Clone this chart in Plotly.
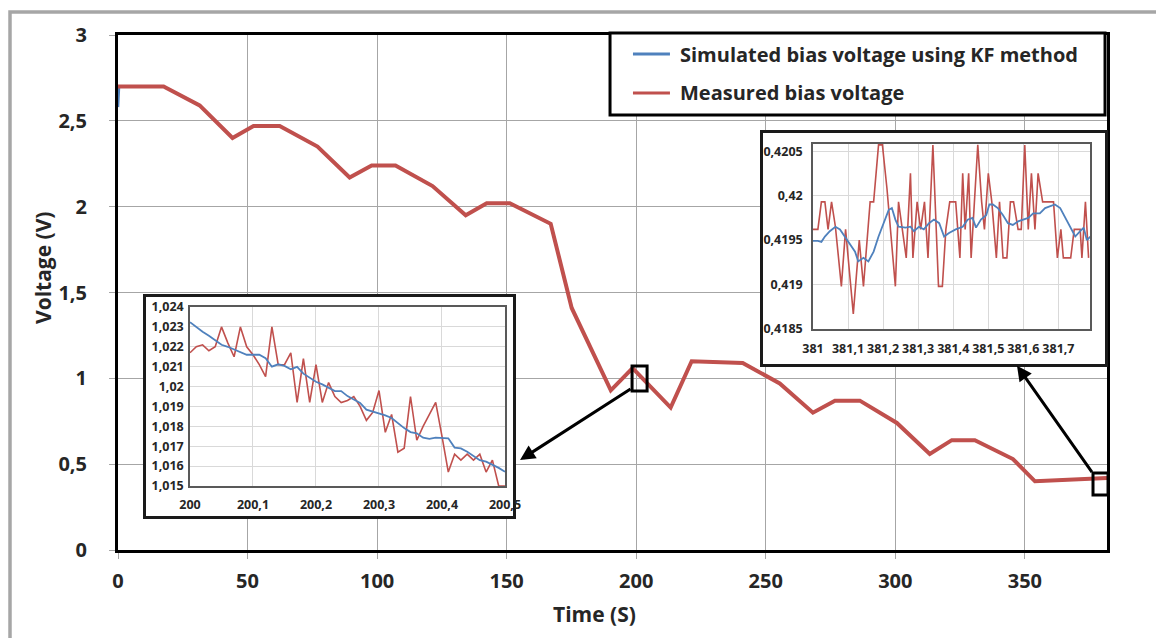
import plotly.graph_objects as go

# ---- Full test record (time in s, bias voltage in V) ----
meas_t = [0, 17.6, 31.5, 44.2, 52.3, 62.4, 77.0, 89.4, 97.9, 107.1,
          121.4, 134.2, 142.3, 151.2, 167.0, 175.1, 190.2, 198.6, 213.3, 221.4,
          241.1, 255.4, 268.2, 276.7, 286.3, 300.6, 313.3, 321.8, 330.7, 345.4,
          353.9, 381.7]
meas_v = [2.70, 2.70, 2.59, 2.40, 2.47, 2.47, 2.35, 2.17, 2.24, 2.24,
          2.12, 1.95, 2.02, 2.02, 1.90, 1.41, 0.93, 1.06, 0.83, 1.10,
          1.09, 0.97, 0.80, 0.87, 0.87, 0.74, 0.56, 0.64, 0.64, 0.53,
          0.40, 0.42]

sim_t = [0, 0.4, 17.6, 31.5, 44.2, 52.3, 62.4, 77.0, 89.4, 97.9, 107.1,
         121.4, 134.2, 142.3, 151.2, 167.0, 175.1, 190.2, 198.6, 213.3, 221.4,
         241.1, 255.4, 268.2, 276.7, 286.3, 300.6, 313.3, 321.8, 330.7, 345.4,
         353.9, 381.7]
sim_v = [2.58, 2.70, 2.70, 2.59, 2.40, 2.47, 2.47, 2.35, 2.17, 2.24, 2.24,
         2.12, 1.95, 2.02, 2.02, 1.90, 1.41, 0.93, 1.06, 0.83, 1.10,
         1.09, 0.97, 0.80, 0.87, 0.87, 0.74, 0.56, 0.64, 0.64, 0.53,
         0.40, 0.42]

# ---- Detail around t = 200 s ----
zoom1_t = [200.00, 200.01, 200.02, 200.03, 200.04, 200.05, 200.06, 200.07, 200.08, 200.09,
           200.10, 200.11, 200.12, 200.13, 200.14, 200.15, 200.16, 200.17, 200.18, 200.19,
           200.20, 200.21, 200.22, 200.23, 200.24, 200.25, 200.26, 200.27, 200.28, 200.29,
           200.30, 200.31, 200.32, 200.33, 200.34, 200.35, 200.36, 200.37, 200.38, 200.39,
           200.40, 200.41, 200.42, 200.43, 200.44, 200.45, 200.46, 200.47, 200.48, 200.49,
           200.50]
zoom1_meas = [1.0217, 1.0220, 1.0221, 1.0218, 1.0220, 1.0230, 1.0222, 1.0215, 1.0230, 1.0220,
              1.0216, 1.0211, 1.0205, 1.0230, 1.0211, 1.0211, 1.0217, 1.0192, 1.0214, 1.0192,
              1.0211, 1.0192, 1.0202, 1.0195, 1.0192, 1.0193, 1.0195, 1.0190, 1.0183, 1.0187,
              1.0198, 1.0177, 1.0186, 1.0167, 1.0169, 1.0195, 1.0173, 1.0180, 1.0186, 1.0192,
              1.0175, 1.0157, 1.0166, 1.0163, 1.0166, 1.0163, 1.0166, 1.0157, 1.0163, 1.0150,
              1.0150]
zoom1_sim = [1.02324, 1.02298, 1.02276, 1.02256, 1.02231, 1.02210, 1.02200, 1.02188, 1.02172, 1.02160,
             1.02160, 1.02160, 1.02143, 1.02100, 1.02112, 1.02104, 1.02087, 1.02099, 1.02065, 1.02045,
             1.02024, 1.02011, 1.01994, 1.01977, 1.01977, 1.01952, 1.01935, 1.01918, 1.01884, 1.01875,
             1.01867, 1.01855, 1.01842, 1.01816, 1.01791, 1.01771, 1.01765, 1.01743, 1.01737, 1.01743,
             1.01740, 1.01740, 1.01693, 1.01689, 1.01672, 1.01652, 1.01630, 1.01622, 1.01608, 1.01591,
             1.01571]

# ---- Detail around t = 381 s ----
zoom2_meas_t = [381.000, 381.014, 381.024, 381.034, 381.043, 381.053, 381.064, 381.081, 381.093, 381.115,
                381.132, 381.144, 381.163, 381.173, 381.187, 381.198, 381.211, 381.235, 381.244, 381.254,
                381.266, 381.278, 381.285, 381.297, 381.307, 381.318, 381.328, 381.342, 381.358, 381.369,
                381.379, 381.390, 381.407, 381.419, 381.427, 381.434, 381.444, 381.451, 381.470, 381.481,
                381.489, 381.500, 381.510, 381.523, 381.532, 381.542, 381.553, 381.563, 381.572, 381.585,
                381.594, 381.604, 381.614, 381.623, 381.633, 381.642, 381.655, 381.686, 381.697, 381.707,
                381.714, 381.735, 381.745, 381.762, 381.767, 381.777, 381.786]
zoom2_meas = [0.41962, 0.41962, 0.41993, 0.41993, 0.41962, 0.41993, 0.41965, 0.41898, 0.41962, 0.41867,
              0.41950, 0.41898, 0.41993, 0.41993, 0.42057, 0.42057, 0.42008, 0.41898, 0.41993, 0.41962,
              0.41930, 0.42025, 0.41930, 0.41993, 0.41962, 0.41993, 0.41930, 0.42057, 0.41898, 0.41898,
              0.41962, 0.41993, 0.41993, 0.41930, 0.42025, 0.41962, 0.42025, 0.41930, 0.42057, 0.41993,
              0.41962, 0.42025, 0.41993, 0.41930, 0.41993, 0.41930, 0.41930, 0.41993, 0.41993, 0.41962,
              0.41962, 0.42057, 0.41962, 0.42025, 0.41962, 0.42025, 0.41993, 0.41993, 0.41930, 0.41962,
              0.41930, 0.41930, 0.41962, 0.41962, 0.41930, 0.41993, 0.41930]
zoom2_sim_t = [381.000, 381.014, 381.024, 381.034, 381.048, 381.064, 381.077, 381.091, 381.105, 381.120,
               381.129, 381.144, 381.158, 381.173, 381.187, 381.201, 381.216, 381.225, 381.235, 381.244,
               381.264, 381.278, 381.288, 381.302, 381.316, 381.331, 381.345, 381.360, 381.374, 381.388,
               381.407, 381.427, 381.441, 381.455, 381.465, 381.479, 381.494, 381.503, 381.513, 381.527,
               381.542, 381.556, 381.570, 381.585, 381.599, 381.614, 381.628, 381.647, 381.662, 381.676,
               381.690, 381.705, 381.719, 381.733, 381.748, 381.762, 381.772, 381.781, 381.791]
zoom2_sim = [0.41949, 0.41949, 0.41948, 0.41954, 0.41960, 0.41965, 0.41962, 0.41954, 0.41947, 0.41937,
             0.41926, 0.41930, 0.41926, 0.41937, 0.41954, 0.41969, 0.41984, 0.41986, 0.41973, 0.41965,
             0.41964, 0.41965, 0.41960, 0.41965, 0.41962, 0.41969, 0.41973, 0.41969, 0.41954, 0.41958,
             0.41962, 0.41965, 0.41973, 0.41975, 0.41964, 0.41973, 0.41978, 0.41990, 0.41990, 0.41986,
             0.41978, 0.41969, 0.41967, 0.41971, 0.41973, 0.41975, 0.41980, 0.41980, 0.41986, 0.41988,
             0.41990, 0.41986, 0.41975, 0.41965, 0.41954, 0.41960, 0.41964, 0.41950, 0.41954]

SIM_NAME = "Simulated bias voltage using KF method"
MEAS_NAME = "Measured bias voltage"
BLUE = "#4F81BD"
RED = "#C0504D"
TXT = "#262626"
FONT = "Open Sans"

fig = go.Figure()

# main chart
fig.add_trace(go.Scatter(x=sim_t, y=sim_v, mode="lines", name=SIM_NAME,
                         line=dict(color=BLUE, width=2.5), showlegend=False))
fig.add_trace(go.Scatter(x=meas_t, y=meas_v, mode="lines", name=MEAS_NAME,
                         line=dict(color=RED, width=4), showlegend=False))

# frame panel behind the first inset
fig.add_trace(go.Scatter(x=[], y=[], xaxis="x2", yaxis="y2", showlegend=False, hoverinfo="skip"))
# first inset
fig.add_trace(go.Scatter(x=zoom1_t, y=zoom1_meas, mode="lines", xaxis="x3", yaxis="y3",
                         line=dict(color=RED, width=1.6), showlegend=False))
fig.add_trace(go.Scatter(x=zoom1_t, y=zoom1_sim, mode="lines", xaxis="x3", yaxis="y3",
                         line=dict(color=BLUE, width=1.8), showlegend=False))
# frame panel behind the second inset
fig.add_trace(go.Scatter(x=[], y=[], xaxis="x4", yaxis="y4", showlegend=False, hoverinfo="skip"))
# second inset
fig.add_trace(go.Scatter(x=zoom2_meas_t, y=zoom2_meas, mode="lines", xaxis="x5", yaxis="y5",
                         line=dict(color=RED, width=1.6), showlegend=False))
fig.add_trace(go.Scatter(x=zoom2_sim_t, y=zoom2_sim, mode="lines", xaxis="x5", yaxis="y5",
                         line=dict(color=BLUE, width=1.8), showlegend=False))

main_tick = dict(family=FONT, size=20, color=TXT, weight="bold")
inset_tick = dict(family=FONT, size=12.5, color=TXT, weight="bold")

panel_axis = dict(range=[0, 1], showgrid=False, zeroline=False, showticklabels=False,
                  ticks="", showline=True, mirror=True, linecolor="#1a1a1a", linewidth=3,
                  fixedrange=True)
inset_axis = dict(showgrid=True, gridcolor="#D9D9D9", gridwidth=1, zeroline=False,
                  showline=True, mirror=True, linecolor="#595959", linewidth=1.5,
                  ticks="", tickfont=inset_tick, fixedrange=True)

fig.update_layout(
    width=1156, height=638,
    margin=dict(l=118, r=49, t=35, b=88),
    paper_bgcolor="white", plot_bgcolor="white",
    separators=", ",
    showlegend=False,
    xaxis=dict(range=[0, 381.7], dtick=50, tick0=0, showgrid=True, gridcolor="#A6A6A6",
               gridwidth=1.2, zeroline=False, showline=True, mirror=True,
               linecolor="black", linewidth=3, ticks="outside", ticklen=6,
               tickcolor="#A6A6A6", tickfont=main_tick, ticklabelstandoff=5),
    yaxis=dict(range=[0, 3], dtick=0.5, showgrid=True, gridcolor="#A6A6A6",
               gridwidth=1.2, zeroline=False, showline=True, mirror=True,
               linecolor="black", linewidth=3, ticks="outside", ticklen=6,
               tickcolor="#A6A6A6", tickfont=main_tick, ticklabelstandoff=18),
    xaxis2=dict(panel_axis, domain=[0.0283, 0.3994], anchor="y2"),
    yaxis2=dict(panel_axis, domain=[0.0660, 0.4913], anchor="x2"),
    xaxis3=dict(inset_axis, domain=[0.0728, 0.3913], anchor="y3",
                range=[200, 200.5], dtick=0.1, tick0=200, ticklabelstandoff=6),
    yaxis3=dict(inset_axis, domain=[0.1243, 0.4718], anchor="x3",
                range=[1.015, 1.024], dtick=0.001, tick0=1.015, ticklabelstandoff=2),
    xaxis4=dict(panel_axis, domain=[0.6522, 0.9980], anchor="y4"),
    yaxis4=dict(panel_axis, domain=[0.3612, 0.8097], anchor="x4"),
    xaxis5=dict(inset_axis, domain=[0.7027, 0.9828], anchor="y5",
                range=[381, 381.79], dtick=0.1, tick0=381, ticklabelstandoff=7),
    yaxis5=dict(inset_axis, domain=[0.4291, 0.7883], anchor="x5",
                range=[0.4185, 0.42058], dtick=0.0005, tick0=0.4185, ticklabelstandoff=6),
)

shapes = [
    # outer grey frame of the figure
    dict(type="rect", xref="paper", yref="paper", x0=-0.1092, y0=-0.19, x1=1.06, y1=1.0447,
         line=dict(color="#A6A6A6", width=3.5), fillcolor="rgba(0,0,0,0)", layer="above"),
    # zoom windows on the main curve
    dict(type="rect", xref="x", yref="y", x0=198.4, x1=204.2, y0=0.926, y1=1.072,
         line=dict(color="black", width=3), layer="above"),
    dict(type="rect", xref="x", yref="y", x0=376.3, x1=382.1, y0=0.32, y1=0.448,
         line=dict(color="black", width=3), layer="above"),
    # legend box
    dict(type="rect", xref="paper", yref="paper", x0=0.4975, x1=0.998, y0=0.8447, y1=1.0039,
         line=dict(color="black", width=3), fillcolor="white", layer="above"),
    dict(type="line", xref="paper", yref="paper", x0=0.5207, x1=0.5581, y0=0.9631, y1=0.9631,
         line=dict(color=BLUE, width=3), layer="above"),
    dict(type="line", xref="paper", yref="paper", x0=0.5207, x1=0.5581, y0=0.8874, y1=0.8874,
         line=dict(color=RED, width=3), layer="above"),
]
fig.update_layout(shapes=shapes)

legend_font = dict(family=FONT, size=20, color=TXT, weight="bold")
title_font = dict(family=FONT, size=21, color=TXT, weight="bold")
annotations = [
    dict(text=SIM_NAME, xref="paper", yref="paper", x=0.5662, y=0.9631,
         xanchor="left", yanchor="middle", showarrow=False, font=legend_font),
    dict(text=MEAS_NAME, xref="paper", yref="paper", x=0.5662, y=0.8874,
         xanchor="left", yanchor="middle", showarrow=False, font=legend_font),
    dict(text="Voltage (V)", xref="paper", yref="paper", x=-0.0758, y=0.5476,
         textangle=-90, xanchor="center", yanchor="middle", showarrow=False, font=title_font),
    dict(text="Time (S)", xref="paper", yref="paper", x=0.4813, y=-0.1243,
         xanchor="center", yanchor="middle", showarrow=False, font=title_font),
    # arrows from the zoom windows to their insets
    dict(text="", xref="paper", yref="paper", x=0.4065, y=0.1748, ax=112, ay=-72,
         showarrow=True, arrowhead=2, arrowsize=1, arrowwidth=3, arrowcolor="black"),
    dict(text="", xref="paper", yref="paper", x=0.909, y=0.358, ax=76, ay=108,
         showarrow=True, arrowhead=2, arrowsize=1, arrowwidth=3, arrowcolor="black"),
]
fig.update_layout(annotations=annotations)

fig.write_html("out.html")
